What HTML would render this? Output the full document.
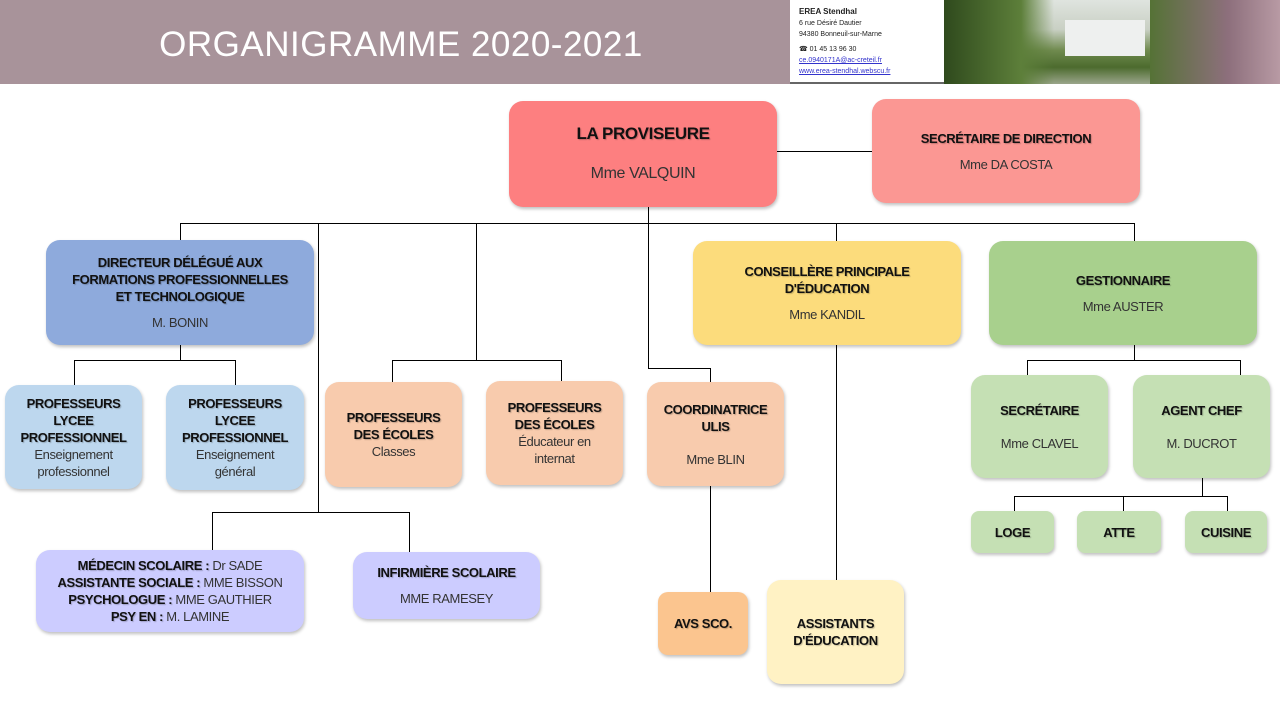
<!DOCTYPE html>
<html><head><meta charset="utf-8"><style>
body{margin:0;width:1280px;height:720px;position:relative;overflow:hidden;background:#fff;font-family:"Liberation Sans",sans-serif;}
.b{position:absolute;border-radius:14px;display:flex;flex-direction:column;align-items:center;justify-content:center;text-align:center;box-shadow:1px 2px 3px rgba(0,0,0,0.25);color:#111;font-size:13px;letter-spacing:-0.4px;line-height:17px;box-sizing:border-box;padding:0 4px}
.b b{text-shadow:1px 1px 1px rgba(0,0,0,0.22);}
.n{color:#333;font-weight:normal}
.l{position:absolute;background:#000}
.h{height:1px}.v{width:1px}
</style></head><body>
<div style="position:absolute;left:0;top:0;width:790px;height:84px;background:#a8939a"></div>
<div style="position:absolute;left:0;top:22px;width:802px;text-align:center;color:#fff;font-size:35px;letter-spacing:0.5px;line-height:46px">ORGANIGRAMME 2020-2021</div>
<div style="position:absolute;left:790px;top:0;width:154px;height:84px;background:#fff;border-bottom:2px solid #666;font-size:7px;line-height:11px;color:#222;padding:6px 0 0 9px;box-sizing:border-box">
<b style="font-size:8px">EREA Stendhal</b><br>6 rue Désiré Dautier<br>94380 Bonneuil-sur-Marne<br><div style="height:4px"></div>☎ 01 45 13 96 30<br><span style="color:#33c;text-decoration:underline">ce.0940171A@ac-creteil.fr</span><br><span style="color:#33c;text-decoration:underline">www.erea-stendhal.webscu.fr</span></div>
<div style="position:absolute;left:944px;top:0;width:336px;height:84px;background:linear-gradient(180deg,#dfe4df 0%,#c9d0c4 35%,#6f8a4e 60%,#4c6b2e 80%,#9aa58a 100%)"></div>
<div style="position:absolute;left:944px;top:0;width:110px;height:84px;background:linear-gradient(90deg,#2f4a1d,#5d7f3a 70%,rgba(93,127,58,0))"></div>
<div style="position:absolute;left:1065px;top:20px;width:80px;height:36px;background:#eef0ef"></div>
<div style="position:absolute;left:1150px;top:0;width:130px;height:84px;background:linear-gradient(90deg,#557236,#8d6f7c 60%,#b89aa4)"></div>

<!-- lines -->
<div class="l h" style="left:777px;top:151px;width:95px"></div>
<div class="l v" style="left:648px;top:207px;height:161px"></div>
<div class="l h" style="left:180px;top:223px;width:955px"></div>
<div class="l v" style="left:180px;top:223px;height:17px"></div>
<div class="l v" style="left:836px;top:223px;height:18px"></div>
<div class="l v" style="left:1134px;top:223px;height:18px"></div>
<div class="l v" style="left:318px;top:223px;height:289px"></div>
<div class="l h" style="left:212px;top:512px;width:198px"></div>
<div class="l v" style="left:212px;top:512px;height:38px"></div>
<div class="l v" style="left:409px;top:512px;height:40px"></div>
<div class="l v" style="left:476px;top:223px;height:137px"></div>
<div class="l h" style="left:392px;top:360px;width:170px"></div>
<div class="l v" style="left:392px;top:360px;height:22px"></div>
<div class="l v" style="left:561px;top:360px;height:21px"></div>
<div class="l h" style="left:648px;top:368px;width:63px"></div>
<div class="l v" style="left:710px;top:368px;height:224px"></div>
<div class="l v" style="left:836px;top:345px;height:235px"></div>
<div class="l v" style="left:180px;top:345px;height:15px"></div>
<div class="l h" style="left:74px;top:360px;width:162px"></div>
<div class="l v" style="left:74px;top:360px;height:25px"></div>
<div class="l v" style="left:235px;top:360px;height:25px"></div>
<div class="l v" style="left:1134px;top:345px;height:15px"></div>
<div class="l h" style="left:1027px;top:360px;width:214px"></div>
<div class="l v" style="left:1027px;top:360px;height:15px"></div>
<div class="l v" style="left:1240px;top:360px;height:15px"></div>
<div class="l v" style="left:1202px;top:478px;height:18px"></div>
<div class="l h" style="left:1014px;top:496px;width:214px"></div>
<div class="l v" style="left:1014px;top:496px;height:15px"></div>
<div class="l v" style="left:1123px;top:496px;height:15px"></div>
<div class="l v" style="left:1227px;top:496px;height:15px"></div>

<!-- boxes -->
<div class="b" style="left:509px;top:101px;width:268px;height:106px;background:#fd7f80;font-size:17px;line-height:22px"><b>LA PROVISEURE</b><div style="height:18px"></div><span class="n" style="font-size:16px">Mme VALQUIN</span></div>
<div class="b" style="left:872px;top:99px;width:268px;height:104px;background:#fb9793"><b>SECRÉTAIRE DE DIRECTION</b><div style="height:9px"></div><span class="n">Mme DA COSTA</span></div>
<div class="b" style="left:46px;top:240px;width:268px;height:105px;background:#8eaadc"><b>DIRECTEUR DÉLÉGUÉ AUX<br>FORMATIONS PROFESSIONNELLES<br>ET TECHNOLOGIQUE</b><div style="height:9px"></div><span class="n">M. BONIN</span></div>
<div class="b" style="left:693px;top:241px;width:268px;height:104px;background:#fcdc7c"><b>CONSEILLÈRE PRINCIPALE<br>D'ÉDUCATION</b><div style="height:9px"></div><span class="n">Mme KANDIL</span></div>
<div class="b" style="left:989px;top:241px;width:268px;height:104px;background:#a8d08d"><b>GESTIONNAIRE</b><div style="height:9px"></div><span class="n">Mme AUSTER</span></div>
<div class="b" style="left:5px;top:385px;width:137px;height:104px;background:#bdd7ee"><b>PROFESSEURS<br>LYCEE<br>PROFESSIONNEL</b><span class="n">Enseignement<br>professionnel</span></div>
<div class="b" style="left:166px;top:385px;width:138px;height:105px;background:#bdd7ee"><b>PROFESSEURS<br>LYCEE<br>PROFESSIONNEL</b><span class="n">Enseignement<br>général</span></div>
<div class="b" style="left:325px;top:382px;width:137px;height:105px;background:#f8cbad"><b>PROFESSEURS<br>DES ÉCOLES</b><span class="n">Classes</span></div>
<div class="b" style="left:486px;top:381px;width:137px;height:104px;background:#f8cbad"><b>PROFESSEURS<br>DES ÉCOLES</b><span class="n">Éducateur en<br>internat</span></div>
<div class="b" style="left:647px;top:382px;width:137px;height:104px;background:#f8cbad"><b>COORDINATRICE<br>ULIS</b><div style="height:16px"></div><span class="n">Mme BLIN</span></div>
<div class="b" style="left:971px;top:375px;width:137px;height:103px;background:#c5e0b4"><b>SECRÉTAIRE</b><div style="height:16px"></div><span class="n">Mme CLAVEL</span></div>
<div class="b" style="left:1133px;top:375px;width:137px;height:103px;background:#c5e0b4"><b>AGENT CHEF</b><div style="height:16px"></div><span class="n">M. DUCROT</span></div>
<div class="b" style="left:971px;top:511px;width:83px;height:42px;border-radius:8px;background:#c5e0b4"><b>LOGE</b></div>
<div class="b" style="left:1077px;top:511px;width:84px;height:42px;border-radius:8px;background:#c5e0b4"><b>ATTE</b></div>
<div class="b" style="left:1185px;top:511px;width:82px;height:42px;border-radius:8px;background:#c5e0b4"><b>CUISINE</b></div>
<div class="b" style="left:36px;top:550px;width:268px;height:82px;background:#ccccff"><div><b>MÉDECIN SCOLAIRE :</b> <span class="n">Dr SADE</span></div><div><b>ASSISTANTE SOCIALE :</b> <span class="n">MME BISSON</span></div><div><b>PSYCHOLOGUE :</b> <span class="n">MME GAUTHIER</span></div><div><b>PSY EN :</b> <span class="n">M. LAMINE</span></div></div>
<div class="b" style="left:353px;top:552px;width:187px;height:67px;background:#ccccff"><b>INFIRMIÈRE SCOLAIRE</b><div style="height:9px"></div><span class="n">MME RAMESEY</span></div>
<div class="b" style="left:658px;top:592px;width:90px;height:63px;border-radius:10px;background:#fbc58f"><b>AVS SCO.</b></div>
<div class="b" style="left:767px;top:580px;width:137px;height:104px;background:#fff2c4"><b>ASSISTANTS<br>D'ÉDUCATION</b></div>
</body></html>
